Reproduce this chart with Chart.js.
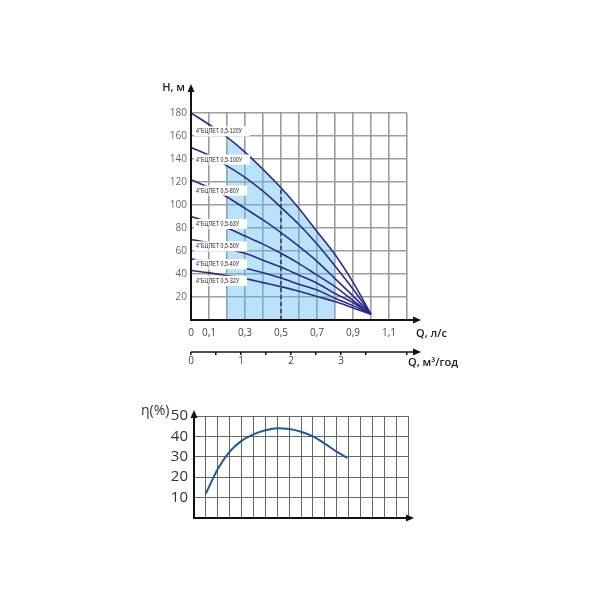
<!DOCTYPE html>
<html>
<head>
<meta charset="utf-8">
<script src="https://cdn.jsdelivr.net/npm/chart.js@4/dist/chart.umd.min.js"></script>
<style>
  body { margin: 0; background: #fff; }
  #wrap { position: relative; width: 600px; height: 600px; }
  #topChart { position: absolute; left: 0; top: 0; }
  #effChart { position: absolute; left: 0; top: 380px; }
</style>
</head>
<body>
<div id="wrap">
  <canvas id="topChart" width="600" height="380"></canvas>
  <canvas id="effChart" width="600" height="220"></canvas>
</div>
<script>
// Q, l/s and head H, m for every pump
const qFlow = [0, 0.1, 0.2, 0.3, 0.4, 0.5, 0.6, 0.7, 0.8, 0.9, 1.0];
const h120 = [180, 170, 159, 146, 131, 115, 97, 77, 57, 33, 5];
const h100 = [150, 143, 134, 124, 112, 98, 83, 66, 47, 27, 5];
const h80 = [122, 115, 107, 97, 87, 76, 64, 51, 36, 21, 5];
const h63 = [90, 85, 80, 73, 66, 58, 49, 39, 29, 17, 5];
const h50 = [70, 67, 62, 58, 52, 46, 39, 32, 23, 15, 5];
const h40 = [53, 51, 48, 45, 41, 36.5, 31, 26, 19, 12.5, 5];
const h32 = [43, 41, 38.5, 36, 32.5, 29, 25, 20.5, 16, 10.5, 5];
const pumpNames = ['4"БЦПЕТ 0,5-120У', '4"БЦПЕТ 0,5-100У', '4"БЦПЕТ 0,5-80У', '4"БЦПЕТ 0,5-63У',
                   '4"БЦПЕТ 0,5-50У', '4"БЦПЕТ 0,5-40У', '4"БЦПЕТ 0,5-32У'];
const nameH = [164, 139.5, 112.5, 83.5, 64, 48.5, 34];

// working range (shaded) and nominal point
const workFrom = 0.2, workTo = 0.8;
const nominalQ = 0.5;

// tick labels
const qTickTenths = [0, 1, 3, 5, 7, 9, 11];
const m3TickLabels = [0, 1, 2, 3];

// efficiency curve
const effX = [1, 2, 3, 4, 5, 6, 7, 8, 9, 10, 11, 12, 12.9];
const effY = [12, 24, 32.5, 37.8, 41, 43, 44, 43.6, 42.3, 40, 36.5, 32.5, 29.5];

const navy = '#2f2c87';
const curves = [h120, h100, h80, h63, h50, h40, h32];

function pts(xs, ys) { return xs.map((x, i) => ({ x: x, y: ys[i] })); }

const shadePts = pts(qFlow, h120).filter(p => p.x >= workFrom - 1e-9 && p.x <= workTo + 1e-9);
const nominalH = h120[qFlow.indexOf(nominalQ)];

const datasets = curves.map(c => ({
    data: pts(qFlow, c),
    borderColor: navy,
    borderWidth: 1.6,
    pointRadius: 0,
    fill: false,
    cubicInterpolationMode: 'monotone',
    order: 1
}));
datasets.push({
    data: shadePts,
    borderWidth: 0,
    borderColor: 'rgba(0,0,0,0)',
    backgroundColor: 'rgba(90,185,240,0.42)',
    pointRadius: 0,
    fill: 'origin',
    cubicInterpolationMode: 'monotone',
    order: 5
});
datasets.push({
    data: [{ x: nominalQ, y: 0 }, { x: nominalQ, y: nominalH }],
    borderColor: navy,
    borderWidth: 1.5,
    borderDash: [4, 3],
    pointRadius: 0,
    fill: false,
    order: 2
});

function drawArrowUp(ctx, x, y) {
    ctx.beginPath();
    ctx.moveTo(x, y);
    ctx.lineTo(x - 3.5, y + 8);
    ctx.lineTo(x + 3.5, y + 8);
    ctx.closePath();
    ctx.fill();
}
function drawArrowRight(ctx, x, y) {
    ctx.beginPath();
    ctx.moveTo(x, y);
    ctx.lineTo(x - 8, y - 3.5);
    ctx.lineTo(x - 8, y + 3.5);
    ctx.closePath();
    ctx.fill();
}

const topDecor = {
    id: 'topDecor',
    afterDatasetsDraw(chart) {
        const ctx = chart.ctx;
        const xs = chart.scales.x, ys = chart.scales.y;
        ctx.save();
        ctx.font = '7px "Liberation Sans", Arial, sans-serif';
        const fit = 46 / ctx.measureText(pumpNames[0]).width;
        pumpNames.forEach((name, i) => {
            const x = xs.getPixelForValue(0.017);
            const y = ys.getPixelForValue(nameH[i]);
            const w = ctx.measureText(name).width * fit;
            ctx.fillStyle = '#fff';
            ctx.fillRect(x, y - 5, w + 10, 10);
            ctx.fillStyle = '#222';
            ctx.textBaseline = 'middle';
            ctx.save();
            ctx.translate(x + 2, y);
            ctx.scale(fit, 1);
            ctx.fillText(name, 0, 0);
            ctx.restore();
        });
        ctx.restore();
    },
    afterDraw(chart) {
        const ctx = chart.ctx;
        const ca = chart.chartArea;
        const x2 = chart.scales.x2;
        ctx.save();
        ctx.strokeStyle = '#111';
        ctx.fillStyle = '#111';
        ctx.lineWidth = 2;
        ctx.beginPath();
        ctx.moveTo(ca.left, ca.bottom);
        ctx.lineTo(ca.left, ca.top - 22);
        ctx.moveTo(ca.left - 1, ca.bottom);
        ctx.lineTo(ca.right + 8, ca.bottom);
        ctx.stroke();
        drawArrowUp(ctx, ca.left, ca.top - 29);
        drawArrowRight(ctx, ca.right + 14, ca.bottom);
        ctx.lineWidth = 1.5;
        ctx.beginPath();
        ctx.moveTo(ca.left, x2.top);
        ctx.lineTo(ca.right + 8, x2.top);
        ctx.stroke();
        drawArrowRight(ctx, ca.right + 14, x2.top);

        ctx.fillStyle = '#222';
        ctx.font = '600 11px "Open Sans", sans-serif';
        ctx.textBaseline = 'middle';
        ctx.textAlign = 'right';
        ctx.fillText('H, м', ca.left - 6, ca.top - 25);
        ctx.textAlign = 'left';
        ctx.fillText('Q, л/с', ca.right + 9, ca.bottom + 14);
        ctx.fillText('Q, м³/год', ca.right + 1, x2.top + 11);
        ctx.restore();
    }
};

new Chart(document.getElementById('topChart'), {
    type: 'line',
    data: { datasets: datasets },
    options: {
        responsive: false,
        animation: false,
        layout: { padding: { left: 151, right: 193, top: 113, bottom: 8 } },
        plugins: { legend: { display: false }, tooltip: { enabled: false } },
        scales: {
            x: {
                type: 'linear',
                min: 0,
                max: 1.2,
                weight: 0,
                afterFit: s => { s.height = 32; },
                border: { display: false },
                grid: { color: '#9d9d9d', lineWidth: 1.6, drawTicks: false },
                ticks: {
                    stepSize: 0.1,
                    padding: 7,
                    maxRotation: 0,
                    autoSkip: false,
                    color: '#444',
                    font: { size: 10, family: '"Open Sans", sans-serif' },
                    callback: v => {
                        const t = Math.round(v * 10);
                        return qTickTenths.includes(t) ? String(t / 10).replace('.', ',') : '';
                    }
                }
            },
            x2: {
                type: 'linear',
                position: 'bottom',
                min: 0,
                max: 1.2 * 3.6,
                weight: 1,
                afterFit: s => { s.height = 20; },
                border: { display: false },
                grid: { drawOnChartArea: false, drawTicks: true, tickLength: 3, color: '#111', lineWidth: 1.5 },
                ticks: {
                    stepSize: 0.5,
                    padding: 0,
                    maxRotation: 0,
                    autoSkip: false,
                    color: '#444',
                    font: { size: 10, family: '"Open Sans", sans-serif' },
                    callback: v => m3TickLabels.includes(v) ? String(v) : ''
                }
            },
            y: {
                min: 0,
                max: 180,
                afterFit: s => { s.width = 40; },
                border: { display: false },
                grid: { color: '#9d9d9d', lineWidth: 1.6, drawTicks: false },
                ticks: {
                    stepSize: 20,
                    padding: 4,
                    autoSkip: false,
                    color: '#666',
                    font: { size: 10, family: '"Open Sans", sans-serif' },
                    callback: v => v === 0 ? '' : String(v)
                }
            }
        }
    },
    plugins: [topDecor]
});

const effDecor = {
    id: 'effDecor',
    afterDraw(chart) {
        const ctx = chart.ctx;
        const ca = chart.chartArea;
        ctx.save();
        ctx.strokeStyle = '#111';
        ctx.fillStyle = '#111';
        ctx.lineWidth = 2;
        ctx.beginPath();
        ctx.moveTo(ca.left, ca.bottom);
        ctx.lineTo(ca.left, ca.top);
        ctx.moveTo(ca.left - 1, ca.bottom);
        ctx.lineTo(ca.right, ca.bottom);
        ctx.stroke();
        drawArrowUp(ctx, ca.left, ca.top - 6);
        drawArrowRight(ctx, ca.right + 6, ca.bottom);
        ctx.fillStyle = '#333';
        ctx.font = '14px "Open Sans", sans-serif';
        ctx.textBaseline = 'middle';
        ctx.textAlign = 'left';
        ctx.fillText('η(%)', ca.left - 53, ca.top - 5);
        ctx.restore();
    }
};

new Chart(document.getElementById('effChart'), {
    type: 'line',
    data: {
        datasets: [{
            data: pts(effX, effY),
            borderColor: '#1f5a98',
            borderWidth: 2,
            pointRadius: 0,
            fill: false,
            cubicInterpolationMode: 'monotone'
        }]
    },
    options: {
        responsive: false,
        animation: false,
        layout: { padding: { left: 144, right: 192, top: 36, bottom: 82 } },
        plugins: { legend: { display: false }, tooltip: { enabled: false } },
        scales: {
            x: {
                type: 'linear',
                min: 0,
                max: 18,
                afterFit: s => { s.height = 0; },
                border: { display: false },
                grid: { color: '#666', lineWidth: 1, drawTicks: false },
                ticks: { stepSize: 1, display: false, autoSkip: false }
            },
            y: {
                min: 0,
                max: 50,
                afterFit: s => { s.width = 50; },
                border: { display: false },
                grid: { color: '#666', lineWidth: 1, drawTicks: false },
                ticks: {
                    stepSize: 10,
                    padding: 6,
                    autoSkip: false,
                    color: '#333',
                    font: { size: 15, family: '"Open Sans", sans-serif' },
                    callback: v => v === 0 ? '' : String(v)
                }
            }
        }
    },
    plugins: [effDecor]
});
</script>
</body>
</html>
